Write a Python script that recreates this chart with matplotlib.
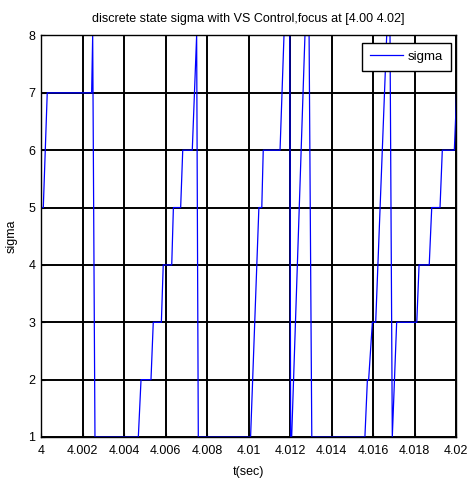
import matplotlib
matplotlib.use("Agg")
import matplotlib.pyplot as plt
from matplotlib.ticker import FixedLocator

plt.rcParams['font.family'] = ['Liberation Sans', 'DejaVu Sans']

# breakpoints of the sigma trace (time, value)
t = [4.0000, 4.00011, 4.0003, 4.00244, 4.00249, 4.0026,
     4.00469, 4.00482, 4.0053, 4.00541, 4.0058, 4.00589,
     4.0063, 4.00638, 4.00673, 4.00683, 4.00729, 4.0075, 4.00758,
     4.0101, 4.0105, 4.01064, 4.01071, 4.01152, 4.01171,
     4.01199, 4.01203, 4.01208, 4.01272, 4.01292, 4.01305,
     4.01561, 4.01573, 4.01579, 4.01597, 4.01613, 4.01666, 4.01682,
     4.01693, 4.01714, 4.01811, 4.01822, 4.01871, 4.01883,
     4.01923, 4.01934, 4.01992, 4.02003]
sigma = [5, 5, 7, 7, 8, 1,
         1, 2, 2, 3, 3, 4,
         4, 5, 5, 6, 6, 8, 1,
         1, 5, 5, 6, 6, 8,
         8, 1, 1, 8, 8, 1,
         1, 2, 2, 3, 3, 8, 8,
         1, 3, 3, 4, 4, 5,
         5, 6, 6, 7]

xticks = [4.0, 4.002, 4.004, 4.006, 4.008, 4.01, 4.012, 4.014, 4.016, 4.018, 4.02]
xticklabels = ['4', '4.002', '4.004', '4.006', '4.008', '4.01', '4.012', '4.014', '4.016', '4.018', '4.02']
yticks = [1, 2, 3, 4, 5, 6, 7, 8]

fig = plt.figure(figsize=(4.72, 4.80), dpi=100)
ax = fig.add_axes([0.0869, 0.0896, 0.8792, 0.8365])

ax.plot(t, sigma, color=(0, 0, 1), linewidth=0.9, label='sigma')
ax.set_xlim(4.0, 4.02)
ax.set_ylim(1, 8)
ax.xaxis.set_major_locator(FixedLocator(xticks))
ax.set_xticklabels(xticklabels)
ax.set_yticks(yticks)
ax.grid(True, color='black', linewidth=1.4, linestyle='-')
ax.set_axisbelow(True)
ax.tick_params(direction='in', length=3, labelsize=9, colors='black')
ax.tick_params(axis='x', pad=6)
ax.tick_params(axis='y', pad=4)
for s in ax.spines.values():
    s.set_linewidth(1.0)
    s.set_color('black')

ax.set_title('discrete state sigma with VS Control,focus at [4.00 4.02]', fontsize=9, pad=10)
ax.set_xlabel('t(sec)', fontsize=9, labelpad=6)
ax.set_ylabel('sigma', fontsize=9, labelpad=8)

leg = ax.legend(loc='upper right', fontsize=9.5, fancybox=False, framealpha=1,
                edgecolor='black', bbox_to_anchor=(0.988, 0.982), borderaxespad=0.0,
                handlelength=2.5, borderpad=0.6, handletextpad=0.4)
leg.get_frame().set_linewidth(1.0)

fig.savefig('out.png', dpi=100)
